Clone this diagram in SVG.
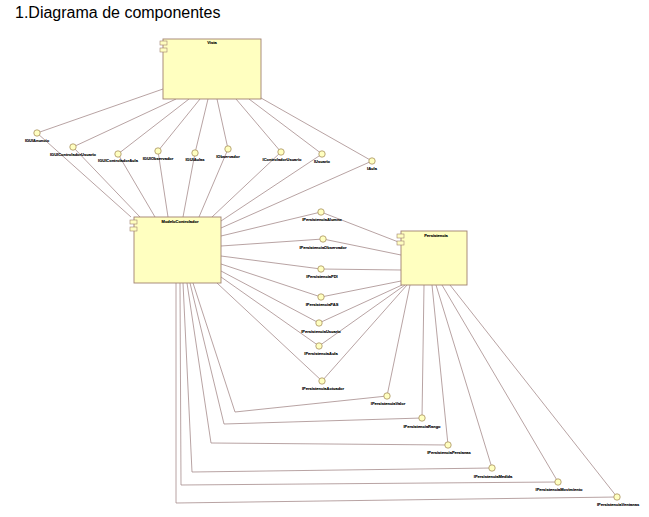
<svg xmlns="http://www.w3.org/2000/svg" width="649" height="517" viewBox="0 0 649 517">
<style>
.title{font-family:"Liberation Sans",Arial,sans-serif;font-size:16px;fill:#000}
.comp{fill:#ffffc0;stroke:#a08070;stroke-width:0.9}
.ico{fill:#ffffc0;stroke:#a08070;stroke-width:0.6}
.ifc{fill:#ffffc0;stroke:#a89060;stroke-width:0.8}
.lbl{font-family:"Liberation Sans",Arial,sans-serif;font-size:4px;font-weight:bold;fill:#000;stroke:#000;stroke-width:0.12;text-anchor:middle}
#connectors line,#connectors polyline{stroke:#a08484;stroke-width:0.75;fill:none}
</style>
<rect width="649" height="517" fill="#ffffff"/>
<text class="title" x="15" y="18">1.Diagrama de componentes</text>
<g id="connectors">
<line x1="163" y1="89" x2="37" y2="133"/>
<line x1="176" y1="99" x2="73" y2="147"/>
<line x1="189" y1="99" x2="118" y2="154"/>
<line x1="200" y1="99" x2="158" y2="151"/>
<line x1="208" y1="99" x2="195" y2="153"/>
<line x1="217" y1="99" x2="228" y2="149"/>
<line x1="236" y1="99" x2="281" y2="152"/>
<line x1="249" y1="99" x2="322" y2="154"/>
<line x1="261" y1="98" x2="372" y2="161"/>
<line x1="37" y1="133" x2="131" y2="217"/>
<line x1="73" y1="147" x2="140" y2="217"/>
<line x1="118" y1="154" x2="155" y2="217"/>
<line x1="158" y1="151" x2="168" y2="217"/>
<line x1="195" y1="153" x2="183" y2="217"/>
<line x1="228" y1="149" x2="199" y2="217"/>
<line x1="281" y1="152" x2="212" y2="217"/>
<line x1="322" y1="154" x2="221" y2="221"/>
<line x1="372" y1="161" x2="221" y2="228"/>
<line x1="221" y1="236" x2="321" y2="212"/>
<line x1="221" y1="246" x2="323" y2="239"/>
<line x1="221" y1="256" x2="321" y2="269"/>
<line x1="221" y1="264" x2="321" y2="297"/>
<line x1="221" y1="271" x2="319" y2="323"/>
<line x1="221" y1="277" x2="319" y2="346"/>
<line x1="217" y1="283" x2="322" y2="381"/>
<line x1="321" y1="212" x2="401" y2="243"/>
<line x1="323" y1="239" x2="401" y2="255"/>
<line x1="321" y1="269" x2="401" y2="270"/>
<line x1="321" y1="297" x2="401" y2="281"/>
<line x1="319" y1="323" x2="402" y2="285"/>
<line x1="319" y1="346" x2="405" y2="285"/>
<line x1="322" y1="381" x2="407" y2="285"/>
<polyline points="193,283 235,412 387,396"/>
<polyline points="190,283 224,424 422,418"/>
<polyline points="187,283 211,443 448,445"/>
<polyline points="183,283 192,472 492,468"/>
<polyline points="180,283 181,485 558,482"/>
<polyline points="176,283 176,503 617,497"/>
<line x1="410" y1="285" x2="387" y2="396"/>
<line x1="424" y1="285" x2="422" y2="418"/>
<line x1="432" y1="285" x2="448" y2="445"/>
<line x1="436" y1="285" x2="492" y2="468"/>
<line x1="442" y1="285" x2="558" y2="482"/>
<line x1="450" y1="285" x2="617" y2="497"/>
</g>
<g id="Vista">
<rect class="comp" x="163" y="39" width="98" height="60"/>
<rect class="ico" x="160" y="41" width="7" height="4"/>
<rect class="ico" x="160" y="48" width="7" height="4"/>
<text class="lbl" x="212" y="44">Vista</text>
</g>
<g id="ModeloControlador">
<rect class="comp" x="134" y="217" width="87" height="66"/>
<rect class="ico" x="130" y="220" width="7" height="4"/>
<rect class="ico" x="130" y="227" width="7" height="4"/>
<text class="lbl" x="180" y="223">ModeloControlador</text>
</g>
<g id="Persistencia">
<rect class="comp" x="401" y="231" width="66" height="54"/>
<rect class="ico" x="397" y="234" width="7" height="4"/>
<rect class="ico" x="397" y="241" width="7" height="4"/>
<text class="lbl" x="436" y="237">Persistencia</text>
</g>
<g id="IGUIAnuncio"><circle class="ifc" cx="37" cy="133" r="3.2"/><text class="lbl" x="37" y="142">IGUIAnuncio</text></g>
<g id="IGUIControladorUsuario"><circle class="ifc" cx="73" cy="147" r="3.2"/><text class="lbl" x="73" y="156">IGUIControladorUsuario</text></g>
<g id="IGUIControladorAula"><circle class="ifc" cx="118" cy="154" r="3.2"/><text class="lbl" x="118" y="162">IGUIControladorAula</text></g>
<g id="IGUIObservador"><circle class="ifc" cx="158" cy="151" r="3.2"/><text class="lbl" x="158" y="160">IGUIObservador</text></g>
<g id="IGUIAulas"><circle class="ifc" cx="195" cy="153" r="3.2"/><text class="lbl" x="195" y="161">IGUIAulas</text></g>
<g id="IObservador"><circle class="ifc" cx="228" cy="149" r="3.2"/><text class="lbl" x="228" y="158">IObservador</text></g>
<g id="IControladorUsuario"><circle class="ifc" cx="281" cy="152" r="3.2"/><text class="lbl" x="282" y="161">IControladorUsuario</text></g>
<g id="IUsuario"><circle class="ifc" cx="322" cy="154" r="3.2"/><text class="lbl" x="322" y="163">IUsuario</text></g>
<g id="IAula"><circle class="ifc" cx="372" cy="161" r="3.2"/><text class="lbl" x="372" y="170">IAula</text></g>
<g id="IPersistenciaAlumno"><circle class="ifc" cx="321" cy="212" r="3.2"/><text class="lbl" x="322" y="221">IPersistenciaAlumno</text></g>
<g id="IPersistenciaObservador"><circle class="ifc" cx="323" cy="239" r="3.2"/><text class="lbl" x="323" y="249">IPersistenciaObservador</text></g>
<g id="IPersistenciaPDI"><circle class="ifc" cx="321" cy="269" r="3.2"/><text class="lbl" x="322" y="278">IPersistenciaPDI</text></g>
<g id="IPersistenciaPAS"><circle class="ifc" cx="321" cy="297" r="3.2"/><text class="lbl" x="322" y="306">IPersistenciaPAS</text></g>
<g id="IPersistenciaUsuario"><circle class="ifc" cx="319" cy="323" r="3.2"/><text class="lbl" x="321" y="333">IPersistenciaUsuario</text></g>
<g id="IPersistenciaAula"><circle class="ifc" cx="319" cy="346" r="3.2"/><text class="lbl" x="321" y="355">IPersistenciaAula</text></g>
<g id="IPersistenciaActuador"><circle class="ifc" cx="322" cy="381" r="3.2"/><text class="lbl" x="323" y="390">IPersistenciaActuador</text></g>
<g id="IPersistenciaValor"><circle class="ifc" cx="387" cy="396" r="3.2"/><text class="lbl" x="388" y="405">IPersistenciaValor</text></g>
<g id="IPersistenciaRango"><circle class="ifc" cx="422" cy="418" r="3.2"/><text class="lbl" x="422" y="428">IPersistenciaRango</text></g>
<g id="IPersistenciaPersianas"><circle class="ifc" cx="448" cy="445" r="3.2"/><text class="lbl" x="449" y="454">IPersistenciaPersianas</text></g>
<g id="IPersistenciaMedida"><circle class="ifc" cx="492" cy="468" r="3.2"/><text class="lbl" x="493" y="478">IPersistenciaMedida</text></g>
<g id="IPersistenciaMovimiento"><circle class="ifc" cx="558" cy="482" r="3.2"/><text class="lbl" x="559" y="491">IPersistenciaMovimiento</text></g>
<g id="IPersistenciaVentanas"><circle class="ifc" cx="617" cy="497" r="3.2"/><text class="lbl" x="618" y="506">IPersistenciaVentanas</text></g>
</svg>
